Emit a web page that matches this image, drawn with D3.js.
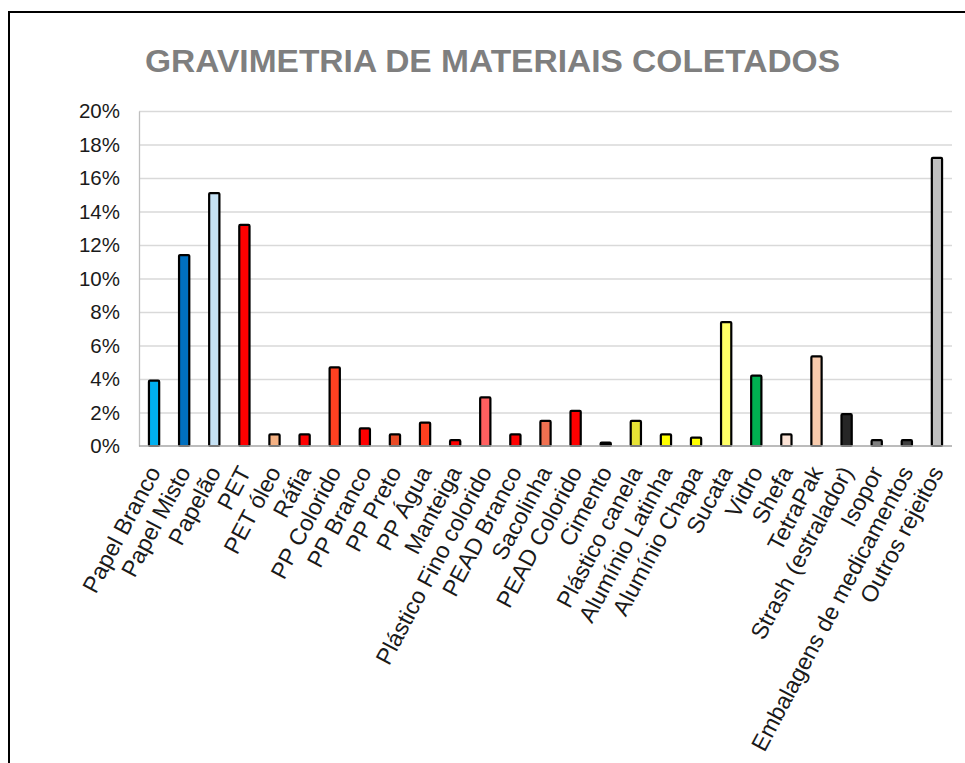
<!DOCTYPE html>
<html>
<head>
<meta charset="utf-8">
<script src="https://cdn.jsdelivr.net/npm/d3@7"></script>
<style>
  body { margin: 0; background: #fff; }
  text { font-family: "Liberation Sans", Arial, sans-serif; }
</style>
</head>
<body>
<script>
// Dados do gráfico (percentual de cada material)
var categorias = ["Papel Branco", "Papel Misto", "Papelão", "PET", "PET óleo", "Ráfia",
    "PP Colorido", "PP Branco", "PP Preto", "PP Água", "Manteiga", "Plástico Fino colorido",
    "PEAD Branco", "Sacolinha", "PEAD Colorido", "Cimento", "Plástico canela",
    "Alumínio Latinha", "Alumínio Chapa", "Sucata", "Vidro", "Shefa", "TetraPak",
    "Strash (estralador)", "Isopor", "Embalagens de medicamentos", "Outros rejeitos"];
var valores = [3.9, 11.4, 15.1, 13.2, 0.7, 0.7,
    4.7, 1.05, 0.7, 1.4, 0.35, 2.9,
    0.7, 1.5, 2.1, 0.2, 1.5,
    0.7, 0.5, 7.4, 4.2, 0.7, 5.35,
    1.9, 0.35, 0.35, 17.2];
var cores = ["#00B0F0", "#0070C0", "#C5E1F4", "#FF0000", "#F4B183", "#FF0000",
    "#FF4121", "#FF0000", "#EA4B26", "#FF4020", "#FF0000", "#FF5F5F",
    "#FF0000", "#F07050", "#FF0000", "#000000", "#E6E235",
    "#FFFF00", "#FFFF00", "#FFFF66", "#00B050", "#FBE2D5", "#F8CBAD",
    "#262626", "#7F7F7F", "#404040", "#BFBFBF"];
var ticksY = [0, 2, 4, 6, 8, 10, 12, 14, 16, 18, 20];
var titulo = "GRAVIMETRIA DE MATERIAIS COLETADOS";

var w = 965;
var h = 763;
var margemEsq = 139, margemDir = 952, topo = 111, base = 446;

var svg = d3.select("body")
    .append("svg")
        .attr("width", w)
        .attr("height", h);

// moldura do gráfico (só aparecem as bordas de cima e da esquerda)
svg.append("rect")
    .attr("x", 9)
    .attr("y", 12)
    .attr("width", 1000)
    .attr("height", 800)
    .attr("fill", "none")
    .attr("stroke", "#000")
    .attr("stroke-width", 2);

svg.append("text")
    .attr("x", 145)
    .attr("y", 72)
    .attr("textLength", 695)
    .attr("lengthAdjust", "spacingAndGlyphs")
    .attr("font-size", 30.5)
    .attr("font-weight", "bold")
    .attr("fill", "#7F7F7F")
    .text(titulo);

var x = d3.scaleBand()
    .domain(categorias)
    .range([margemEsq, margemDir])
    .paddingInner(0.66)
    .paddingOuter(0.33);

var y = d3.scaleLinear()
    .domain([0, 20])
    .range([base, topo]);

// linhas de grade
svg.append("g")
    .attr("transform", "translate(" + margemEsq + ",0)")
    .call(d3.axisLeft(y).tickValues(ticksY.slice(1)).tickSize(-(margemDir - margemEsq)).tickFormat(""))
    .call(function(g) {
        g.select(".domain").remove();
        g.selectAll("line").attr("stroke", "#D9D9D9").attr("stroke-width", 1.3);
    });

// eixo vertical com os rótulos em %
svg.append("g")
    .attr("transform", "translate(" + margemEsq + ",0)")
    .call(d3.axisLeft(y).tickValues(ticksY).tickSize(0).tickPadding(19)
        .tickFormat(function(d) { return d + "%"; }))
    .call(function(g) {
        g.select(".domain").attr("stroke", "#BFBFBF").attr("stroke-width", 1.3);
        g.selectAll("text")
            .attr("font-size", 20.5)
            .attr("fill", "#1a1a1a")
            .style("font-family", "'Liberation Sans', Arial, sans-serif");
    });

// barras
svg.selectAll("rect.barra")
    .data(valores)
    .enter()
        .append("rect")
        .attr("class", "barra")
        .attr("x", function(d, i) { return x(categorias[i]); })
        .attr("y", function(d) { return y(d); })
        .attr("width", x.bandwidth())
        .attr("height", function(d) { return y(0) - y(d); })
        .attr("rx", 1)
        .attr("fill", function(d, i) { return cores[i]; })
        .attr("stroke", "#000")
        .attr("stroke-width", 2.2);

// linha de base
svg.append("line")
    .attr("x1", margemEsq)
    .attr("x2", margemDir)
    .attr("y1", y(0))
    .attr("y2", y(0))
    .attr("stroke", "#A6A6A6")
    .attr("stroke-width", 1.5);

// rótulos das categorias, inclinados
svg.selectAll("text.cat")
    .data(categorias)
    .enter()
        .append("text")
        .attr("class", "cat")
        .attr("transform", function(d) {
            return "translate(" + (x(d) + x.bandwidth() / 2) + ",468) rotate(-62)";
        })
        .attr("text-anchor", "end")
        .attr("dy", "0.35em")
        .attr("font-size", 23.2)
        .attr("fill", "#1a1a1a")
        .text(function(d) { return d; });
</script>
</body>
</html>
